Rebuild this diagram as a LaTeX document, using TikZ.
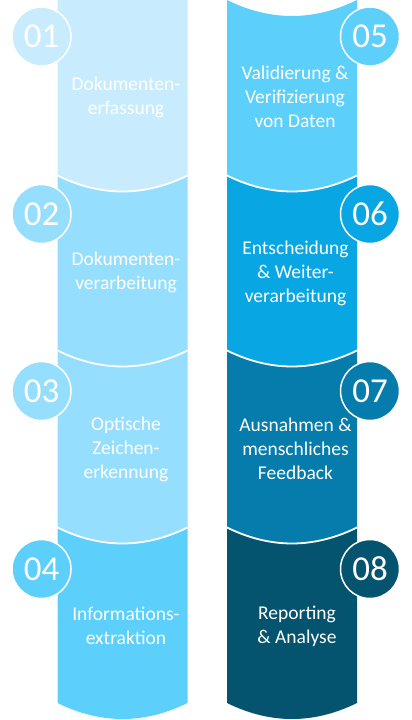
\documentclass[tikz,border=0pt]{standalone}
\usepackage{fontspec}
\setmainfont{Carlito}
\definecolor{cA}{HTML}{C8ECFD}
\definecolor{cB}{HTML}{96DEFD}
\definecolor{cC}{HTML}{5DCFFB}
\definecolor{cD}{HTML}{09A6E4}
\definecolor{cE}{HTML}{057CAC}
\definecolor{cF}{HTML}{04546F}
\newcommand{\colseg}[5]{\fill[#1] (#2,#4) .. controls ({#2+43.33},{#4+21.33}) and ({#3-43.33},{#4+21.33}) .. (#3,#4) -- (#3,#5) .. controls ({#3-43.33},{#5+21.33}) and ({#2+43.33},{#5+21.33}) .. (#2,#5) -- cycle;}
\newcommand{\colsep}[3]{\draw[sepline] (#1,#3) .. controls ({#1+43.33},{#3+21.33}) and ({#2-43.33},{#3+21.33}) .. (#2,#3);}
\tikzset{
  seglabel/.style={text=white, align=center, inner sep=0pt, font=\fontsize{19.5}{24}\selectfont},
  numcircle/.style={circle, draw=white, line width=1.5pt, minimum size=59pt, inner sep=0pt, text=white, font=\fontsize{35}{40}\selectfont},
  sepline/.style={draw=white, line width=1.8pt}
}
\begin{document}
\begin{tikzpicture}[x=1pt, y=-1pt]
\useasboundingbox (0,0) rectangle (412,720);
\clip (0,0) rectangle (412,720);
% left column
\colseg{cA}{57.5}{187.5}{-25}{175.5}
\colseg{cB}{57.5}{187.5}{175.5}{350.5}
\colseg{cB}{57.5}{187.5}{350.5}{527.5}
\colseg{cC}{57.5}{187.5}{527.5}{703}
\colsep{57.5}{187.5}{175.5}
\colsep{57.5}{187.5}{350.5}
\colsep{57.5}{187.5}{527.5}
% right column
\colseg{cC}{227}{357}{0}{175.5}
\colseg{cD}{227}{357}{175.5}{350.5}
\colseg{cE}{227}{357}{350.5}{527.5}
\colseg{cF}{227}{357}{527.5}{703}
\colsep{227}{357}{175.5}
\colsep{227}{357}{350.5}
\colsep{227}{357}{527.5}
% number circles
\node[numcircle, fill=cA] (n1) at (41.5,36.5) {01};
\node[numcircle, fill=cB] (n2) at (41.5,214) {02};
\node[numcircle, fill=cB] (n3) at (41.5,391) {03};
\node[numcircle, fill=cC] (n4) at (41.5,569) {04};
\node[numcircle, fill=cC] (n5) at (370,36.5) {05};
\node[numcircle, fill=cD] (n6) at (370,214) {06};
\node[numcircle, fill=cE] (n7) at (370,391) {07};
\node[numcircle, fill=cF] (n8) at (370,569) {08};
% labels
\node[seglabel] (t1) at (126,97) {Dokumenten-\\erfassung};
\node[seglabel] (t2) at (126,272.5) {Dokumenten-\\verarbeitung};
\node[seglabel] (t3) at (126,449) {Optische\\Zeichen-\\erkennung};
\node[seglabel] (t4) at (126,626) {Informations-\\extraktion};
\node[seglabel] (t5) at (295,97) {Validierung \&\\Verifizierung\\von Daten};
\node[seglabel] (t6) at (295.5,273) {Entscheidung\\\& Weiter-\\verarbeitung};
\node[seglabel] (t7) at (295.5,449) {Ausnahmen \&\\menschliches\\Feedback};
\node[seglabel] (t8) at (297,626) {Reporting\\\& Analyse};
\end{tikzpicture}
\end{document}
